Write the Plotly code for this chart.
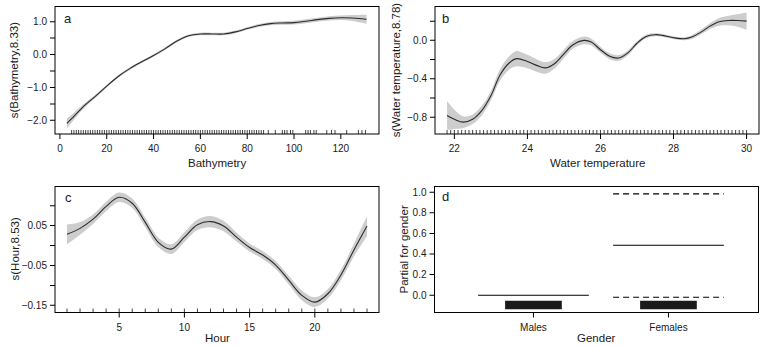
import plotly.graph_objects as go

W, H = 761, 346

# ---------------- data ----------------
# Panel a: Bathymetry smooth
bathy_x = [3, 5, 10, 15, 20, 25, 30, 35, 40, 45, 50, 55, 60, 65, 70, 75, 80, 85, 90, 95, 100, 105, 110, 115, 120, 125, 130, 131]
bathy_fit = [-2.09, -1.95, -1.58, -1.28, -0.96, -0.66, -0.42, -0.22, -0.03, 0.18, 0.41, 0.57, 0.625, 0.625, 0.625, 0.69, 0.79, 0.88, 0.94, 0.96, 0.97, 1.01, 1.06, 1.10, 1.12, 1.11, 1.08, 1.07]
bathy_se = [0.15, 0.12, 0.07, 0.05, 0.04, 0.04, 0.04, 0.04, 0.04, 0.04, 0.04, 0.04, 0.04, 0.04, 0.04, 0.04, 0.04, 0.045, 0.05, 0.055, 0.06, 0.06, 0.06, 0.065, 0.07, 0.09, 0.13, 0.14]
bathy_rug = [5, 6, 7, 8, 9, 10, 11, 12, 13, 14, 15, 16, 17, 18, 19, 20, 21, 22, 23, 24, 25, 26, 27, 28, 29, 30,
             31, 32, 33, 34, 35, 36, 37, 38, 39, 40, 41, 42, 43, 44, 45, 46, 47, 48, 49, 50, 51, 52, 53, 54, 55,
             56, 57, 58, 59, 60, 61, 62, 63, 64, 65, 66, 67, 68, 69, 70, 71, 72, 73, 74, 75, 76, 77, 78, 79, 80,
             81, 82, 83, 84, 85, 86, 87, 89, 92, 95, 96, 97, 98.5, 99.5, 105, 106, 107, 108.5, 109.5, 114, 116,
             117.5, 122.5, 127.5, 129, 130.5]

# Panel b: Water temperature smooth
temp_x = [21.8, 22.0, 22.25, 22.5, 22.75, 23.0, 23.25, 23.5, 23.7, 24.0, 24.25, 24.5, 24.75, 25.0, 25.25, 25.55, 25.75,
          26.0, 26.25, 26.5, 26.75, 27.0, 27.25, 27.5, 27.7, 28.0, 28.3, 28.5, 28.75, 29.0, 29.25, 29.5, 29.75, 30.0]
temp_fit = [-0.78, -0.82, -0.85, -0.82, -0.73, -0.576, -0.36, -0.235, -0.19, -0.22, -0.26, -0.286, -0.24, -0.14,
            -0.045, 0.0, -0.017, -0.097, -0.165, -0.183, -0.13, -0.03, 0.04, 0.059, 0.052, 0.028, 0.017, 0.034,
            0.086, 0.148, 0.193, 0.207, 0.207, 0.2]
temp_se = [0.15, 0.10, 0.06, 0.05, 0.05, 0.05, 0.06, 0.07, 0.08, 0.07, 0.065, 0.06, 0.05, 0.045, 0.04, 0.04, 0.035,
           0.03, 0.03, 0.03, 0.025, 0.02, 0.018, 0.015, 0.015, 0.015, 0.015, 0.02, 0.025, 0.03, 0.04, 0.05, 0.065, 0.09]
temp_rug = [21.8, 21.9, 22.0, 22.1, 22.2, 22.3, 22.4, 22.5, 22.6, 22.7, 22.8, 22.9, 23.0, 23.1, 23.2, 23.3, 23.4,
            23.5, 23.6, 23.7, 23.8, 23.9, 24.0, 24.1, 24.2, 24.3, 24.4, 24.5, 24.6, 24.7, 24.8, 24.9, 25.0, 25.1,
            25.2, 25.3, 25.4, 25.5, 25.6, 25.7, 25.8, 25.9, 26.0, 26.1, 26.2, 26.3, 26.4, 26.5, 26.6, 26.7, 26.8,
            26.9, 27.0, 27.1, 27.2, 27.3, 27.4, 27.5, 27.6, 27.7, 27.8, 27.9, 28.0, 28.1, 28.2, 28.3, 28.4, 28.5,
            28.6, 28.7, 28.8, 28.9, 29.0, 29.1, 29.2, 29.3, 29.4, 29.5, 29.6, 29.7, 29.8, 29.9, 30.0]

# Panel c: Hour smooth
hour_x = [1, 2, 3, 4, 5, 6, 7, 8, 9, 10, 11, 12, 13, 14, 15, 16, 17, 18, 19, 20, 21, 22, 23, 24]
hour_fit = [0.028, 0.043, 0.066, 0.098, 0.121, 0.106, 0.058, 0.008, -0.009, 0.021, 0.052, 0.060, 0.049, 0.021,
            -0.005, -0.024, -0.049, -0.087, -0.125, -0.142, -0.121, -0.074, -0.011, 0.049]
hour_se = [0.025, 0.016, 0.012, 0.012, 0.012, 0.012, 0.012, 0.012, 0.012, 0.012, 0.013, 0.014, 0.013, 0.011,
           0.01, 0.01, 0.01, 0.011, 0.012, 0.012, 0.012, 0.013, 0.016, 0.025]
hour_rug = [1, 2, 3, 4, 5, 6, 7, 8, 9, 10, 11, 12, 13, 14, 15, 16, 17, 18, 19, 20, 21, 22, 23, 24]

# Panel d: Gender partial effect
gender_levels = ["Males", "Females"]
gender_fit = [0.0, 0.485]
gender_upper = [None, 0.983]
gender_lower = [None, -0.02]
gender_rug_low = [-0.136, -0.136]
gender_rug_high = [-0.055, -0.055]

# tick values / labels
xticks = {
    1: ([0, 20, 40, 60, 80, 100, 120], ["0", "20", "40", "60", "80", "100", "120"]),
    2: ([22, 24, 26, 28, 30], ["22", "24", "26", "28", "30"]),
    3: ([5, 10, 15, 20], ["5", "10", "15", "20"]),
    4: ([1, 2], gender_levels),
}
yticks = {
    1: ([-2, -1.5, -1, -0.5, 0, 0.5, 1], ["−2.0", "", "−1.0", "", "0.0", "", "1.0"]),
    2: ([-0.8, -0.6, -0.4, -0.2, 0, 0.2], ["−0.8", "", "−0.4", "", "0.0", ""]),
    3: ([-0.15, -0.10, -0.05, 0, 0.05, 0.10], ["−0.15", "", "−0.05", "", "0.05", ""]),
    4: ([0, 0.2, 0.4, 0.6, 0.8, 1.0], ["0.0", "0.2", "0.4", "0.6", "0.8", "1.0"]),
}

# ---------------- styling ----------------
FONT = "Liberation Sans, Arial, sans-serif"
TXT = "#1a1a1a"
BAND = "#cdcdcd"
LINE = "#2b2b2b"

# panel frames in pixels: (left, right, top, bottom) and the data ranges they show
frames = {
    1: (55, 379, 6.5, 134),
    2: (435, 759, 6.5, 134),
    3: (55, 379, 186.5, 312.5),
    4: (434.5, 758.5, 186.5, 312.5),
}
ranges = {
    1: ([-2.1, 136.3], [-2.415, 1.46]),
    2: ([21.47, 30.34], [-0.973, 0.352]),
    3: ([0.08, 24.92], [-0.168, 0.148]),
    4: ([0.267, 2.667], [-0.168, 1.055]),
}
PAD_LB = 7.0   # extra plot area (px) left/bottom to host tick marks
PAD_RT = 2.0   # extra plot area (px) right/top so the frame is fully visible
TICKLEN = 5.0
RUGLEN = 4.0
STROKE = 1.0   # frame / tick thickness in px


def px(x):
    return x / W


def py(y):
    return 1 - y / H


fig = go.Figure()


def ax_names(k):
    return ("x" if k == 1 else f"x{k}"), ("y" if k == 1 else f"y{k}")


def scales(k):
    l, r, t, b = frames[k]
    (x0, x1), (y0, y1) = ranges[k]
    return (x1 - x0) / (r - l), (y1 - y0) / (b - t)


def add_smooth(k, xs, fit, se):
    xa, ya = ax_names(k)
    upper = [f + s for f, s in zip(fit, se)]
    lower = [f - s for f, s in zip(fit, se)]
    fig.add_trace(go.Scatter(x=xs, y=lower, mode="lines", line=dict(width=0, shape="spline", color=BAND),
                             xaxis=xa, yaxis=ya, hoverinfo="skip"))
    fig.add_trace(go.Scatter(x=xs, y=upper, mode="lines", line=dict(width=0, shape="spline", color=BAND),
                             fill="tonexty", fillcolor=BAND, xaxis=xa, yaxis=ya, hoverinfo="skip"))
    fig.add_trace(go.Scatter(x=xs, y=fit, mode="lines", line=dict(width=1.1, shape="spline", color=LINE),
                             xaxis=xa, yaxis=ya))


def add_rug(k, rug):
    xa, ya = ax_names(k)
    sx, sy = scales(k)
    y0 = ranges[k][1][0]
    rx, ry = [], []
    for v in rug:
        rx += [v, v, None]
        ry += [y0, y0 + RUGLEN * sy, None]
    fig.add_trace(go.Scatter(x=rx, y=ry, mode="lines", line=dict(width=0.8, color="#111"),
                             xaxis=xa, yaxis=ya, hoverinfo="skip"))


add_smooth(1, bathy_x, bathy_fit, bathy_se)
add_rug(1, bathy_rug)
add_smooth(2, temp_x, temp_fit, temp_se)
add_rug(2, temp_rug)
add_smooth(3, hour_x, hour_fit, hour_se)
add_rug(3, hour_rug)

# Panel d
half = 0.41
for i, name in enumerate(gender_levels):
    pos = i + 1
    fig.add_trace(go.Scatter(x=[pos - half, pos + half], y=[gender_fit[i]] * 2, mode="lines",
                             line=dict(color="black", width=1.1), xaxis="x4", yaxis="y4"))
    if gender_upper[i] is not None:
        for val in (gender_upper[i], gender_lower[i]):
            fig.add_trace(go.Scatter(x=[pos - half, pos + half], y=[val] * 2, mode="lines",
                                     line=dict(color="black", width=1.1, dash="6px,4px"),
                                     xaxis="x4", yaxis="y4"))
fig.add_trace(go.Bar(x=[1, 2], y=[h - l for h, l in zip(gender_rug_high, gender_rug_low)],
                     base=gender_rug_low, width=0.42, marker=dict(color="#1a1a1a", line=dict(width=0)),
                     xaxis="x4", yaxis="y4"))


# frames and tick marks drawn as thin filled rectangles
def rect(xs, ys, a0, a1, b0, b1):
    xs += [a0, a1, a1, a0, a0, None]
    ys += [b0, b0, b1, b1, b0, None]


for k in range(1, 5):
    xa, ya = ax_names(k)
    sx, sy = scales(k)
    hx, hy = 0.5 * STROKE * sx, 0.5 * STROKE * sy
    (x0, x1), (y0, y1) = ranges[k]
    xs, ys = [], []
    rect(xs, ys, x0 - hx, x1 + hx, y0 - hy, y0 + hy)  # bottom
    rect(xs, ys, x0 - hx, x1 + hx, y1 - hy, y1 + hy)  # top
    rect(xs, ys, x0 - hx, x0 + hx, y0 - hy, y1 + hy)  # left
    rect(xs, ys, x1 - hx, x1 + hx, y0 - hy, y1 + hy)  # right
    for v in xticks[k][0]:
        rect(xs, ys, v - hx, v + hx, y0 - TICKLEN * sy, y0)
    for v in yticks[k][0]:
        rect(xs, ys, x0 - TICKLEN * sx, x0, v - hy, v + hy)
    fig.add_trace(go.Scatter(x=xs, y=ys, mode="lines", fill="toself", fillcolor="#000000",
                             line=dict(width=0, color="#000000"), xaxis=xa, yaxis=ya, hoverinfo="skip"))

# ---------------- axes ----------------
layout = dict(
    width=W, height=H, margin=dict(l=0, r=0, t=0, b=0, autoexpand=False),
    paper_bgcolor="white", plot_bgcolor="rgba(0,0,0,0)", showlegend=False,
    font=dict(family=FONT, size=10, color=TXT),
)
common = dict(showgrid=False, zeroline=False, showline=False, ticks="",
              tickfont=dict(family=FONT, size=10, color=TXT))
for k in range(1, 5):
    l, r, t, b = frames[k]
    sx, sy = scales(k)
    (x0, x1), (y0, y1) = ranges[k]
    xname, yname = ax_names(k)
    sxk = "xaxis" if k == 1 else f"xaxis{k}"
    syk = "yaxis" if k == 1 else f"yaxis{k}"
    layout[sxk] = dict(common, domain=[px(l - PAD_LB), px(r + PAD_RT)],
                       range=[x0 - PAD_LB * sx, x1 + PAD_RT * sx], anchor=yname,
                       tickmode="array", tickvals=xticks[k][0], ticktext=xticks[k][1])
    layout[syk] = dict(common, domain=[py(b + PAD_LB), py(t - PAD_RT)],
                       range=[y0 - PAD_LB * sy, y1 + PAD_RT * sy], anchor=xname,
                       tickmode="array", tickvals=yticks[k][0], ticktext=yticks[k][1])

fig.update_layout(**layout)

# axis titles & panel letters
xtitles = {1: ("Bathymetry", 163), 2: ("Water temperature", 163), 3: ("Hour", 338), 4: ("Gender", 338)}
ytitles = {1: ("s(Bathymetry,8.33)", 14), 2: ("s(Water temperature,8.78)", 396),
           3: ("s(Hour,8.53)", 14), 4: ("Partial for gender", 403)}
letters = {1: ("a", 68, 19), 2: ("b", 446, 19), 3: ("c", 68, 197), 4: ("d", 446, 196)}

for k in range(1, 5):
    l, r, t, b = frames[k]
    txt, yy = xtitles[k]
    fig.add_annotation(text=txt, x=px((l + r) / 2), y=py(yy), xref="paper", yref="paper",
                       xanchor="center", yanchor="middle", showarrow=False,
                       font=dict(family=FONT, size=11.5, color=TXT))
    txt, xx = ytitles[k]
    fig.add_annotation(text=txt, x=px(xx), y=py((t + b) / 2), xref="paper", yref="paper",
                       xanchor="center", yanchor="middle", showarrow=False, textangle=-90,
                       font=dict(family=FONT, size=11.5, color=TXT))
    txt, lx, ly = letters[k]
    fig.add_annotation(text=txt, x=px(lx), y=py(ly), xref="paper", yref="paper",
                       xanchor="center", yanchor="middle", showarrow=False,
                       font=dict(family=FONT, size=13, color=TXT))

fig.write_html("out.html", config={"displayModeBar": False, "staticPlot": True},
               post_script="document.body.style.margin='0';document.body.style.overflow='hidden';")
